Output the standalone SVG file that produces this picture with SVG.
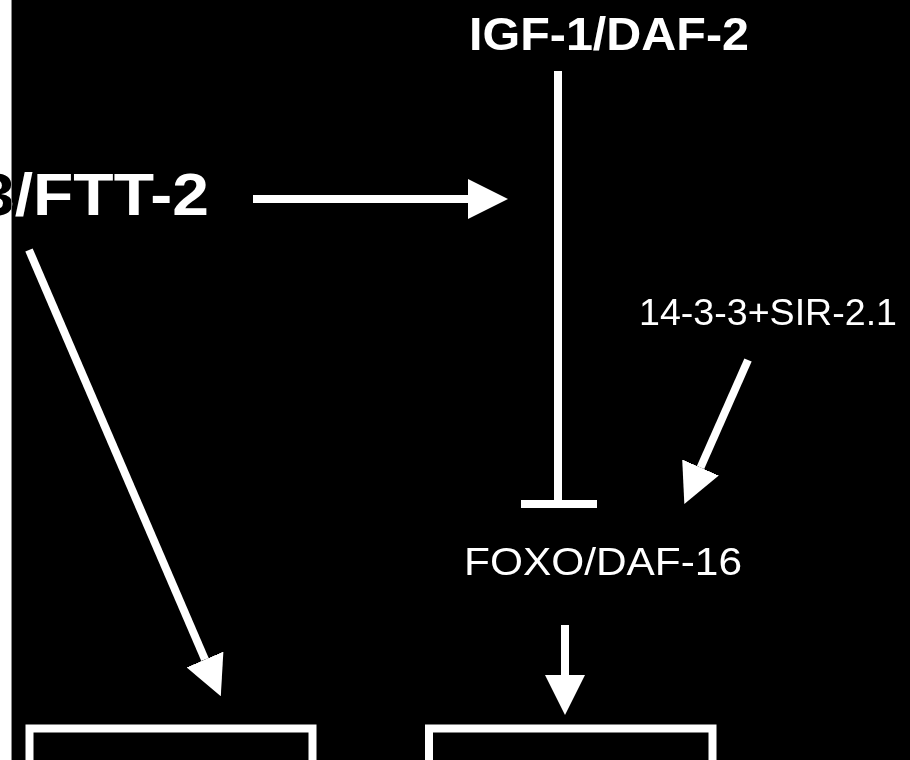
<svg xmlns="http://www.w3.org/2000/svg" width="910" height="760" viewBox="0 0 910 760">
<style>
.bold{font-family:"Liberation Sans",Arial,sans-serif;font-weight:bold;fill:#fff}
.reg{font-family:"Liberation Sans",Arial,sans-serif;fill:#fff}
.ln{stroke:#fff;stroke-width:8;fill:none}
</style>
<defs>
<marker id="ah" markerUnits="userSpaceOnUse" markerWidth="40" markerHeight="40" refX="0" refY="20" orient="auto" viewBox="0 0 40 40">
<path d="M0,0 L40,20 L0,40 z" fill="#fff"/>
</marker>
</defs>
<rect x="0" y="0" width="910" height="760" fill="#fff"/>
<rect x="12" y="0" width="898" height="760" fill="#000"/>
<line x1="11.5" y1="0" x2="11.5" y2="760" stroke="#888" stroke-width="1"/>
<g id="igf"><text class="bold" x="469" y="50" font-size="47" textLength="280" lengthAdjust="spacingAndGlyphs">IGF-1/DAF-2</text></g>
<g id="ftt"><text class="bold" x="-22" y="215" font-size="59" textLength="231" lengthAdjust="spacingAndGlyphs" style="mix-blend-mode:difference">3/FTT-2</text></g>
<g id="sir"><text class="reg" x="639" y="325" font-size="36" textLength="258" lengthAdjust="spacingAndGlyphs">14-3-3+SIR-2.1</text></g>
<g id="foxo"><text class="reg" x="464" y="575" font-size="38" textLength="278" lengthAdjust="spacingAndGlyphs">FOXO/DAF-16</text></g>
<g id="box1"><path class="ln" d="M29.5,760 V728.5 H312.5 V760"/></g>
<g id="box2"><path class="ln" d="M429,760 V728.5 H712.5 V760"/></g>
<g id="connectors">
<line class="ln" x1="253" y1="199" x2="468" y2="199" marker-end="url(#ah)"/>
<line class="ln" x1="558" y1="71" x2="558" y2="504"/>
<line class="ln" x1="521" y1="504" x2="597" y2="504"/>
<line class="ln" x1="29" y1="250" x2="205" y2="659.5" marker-end="url(#ah)"/>
<line class="ln" x1="748" y1="360" x2="700.5" y2="467.5" marker-end="url(#ah)"/>
<line class="ln" x1="565" y1="625" x2="565" y2="675" marker-end="url(#ah)"/>
</g>
</svg>
